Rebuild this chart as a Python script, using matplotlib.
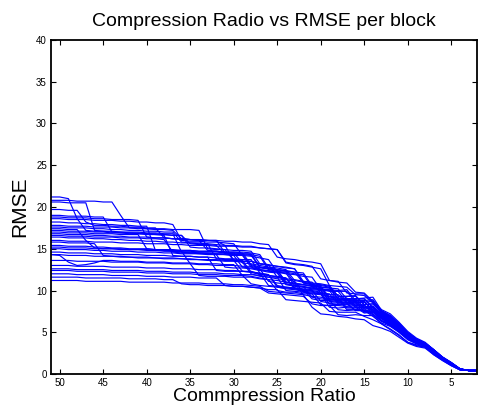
import matplotlib
matplotlib.use("Agg")
import matplotlib.pyplot as plt

# Compression ratios (evaluated from 51 down to 2)
ratios = list(range(51, 1, -1))

# RMSE per block at each compression ratio
block_01 = [21.2,21.2,21.0,18.6,17.2,17.1,17.1,17.0,17.0,16.9,
            16.9,16.8,16.8,16.7,16.6,16.6,15.6,15.5,15.5,15.4,
            14.4,14.3,14.3,14.2,12.8,12.6,12.5,12.3,12.2,10.9,
            10.7,10.5,9.2,9.1,9.1,8.2,8.2,7.5,6.7,6.4,
            5.6,4.7,4.0,3.6,2.8,1.95,1.3,0.6,0.42,0.42]
block_02 = [20.8,20.8,20.8,20.7,20.7,20.7,20.6,20.6,19.0,17.5,
            17.4,17.4,17.3,17.3,17.2,16.2,16.1,16.0,16.0,15.9,
            15.4,15.4,15.3,15.3,15.1,15.0,14.9,13.3,13.1,13.0,
            12.8,12.6,10.6,10.5,10.4,9.5,9.4,8.5,7.5,6.9,
            5.9,4.9,4.1,3.7,2.9,2.0,1.35,0.62,0.42,0.42]
block_03 = [19.7,19.7,19.6,19.6,18.2,17.8,17.8,17.7,17.7,17.6,
            17.6,17.5,17.5,16.3,16.2,16.1,16.1,16.0,14.8,14.7,
            14.6,14.5,13.3,13.2,13.0,12.8,12.7,12.5,11.2,11.0,
            10.8,10.7,10.5,9.3,9.3,9.3,8.3,8.4,7.3,6.7,
            5.8,4.8,4.0,3.6,2.8,1.95,1.3,0.6,0.42,0.42]
block_04 = [19.0,19.0,18.9,18.9,18.9,18.8,18.8,17.0,16.9,16.9,
            16.8,16.8,16.7,16.7,16.6,16.6,15.2,15.1,15.1,15.0,
            14.9,13.6,13.5,13.5,13.2,13.1,11.6,11.4,11.3,11.1,
            11.0,9.7,9.5,9.5,8.5,8.5,8.6,7.7,7.0,6.5,
            5.6,4.6,4.0,3.5,2.7,1.9,1.25,0.58,0.42,0.42]
block_05 = [18.6,18.6,18.5,18.5,18.5,18.4,18.4,18.4,18.3,18.3,
            18.2,18.2,18.1,18.1,17.9,16.0,15.9,15.9,15.8,15.8,
            15.7,15.6,14.2,14.1,13.9,13.7,12.2,12.0,11.9,11.7,
            11.6,10.1,9.9,9.9,9.9,8.6,8.6,8.7,7.3,6.8,
            5.8,4.8,4.1,3.6,2.8,1.95,1.3,0.6,0.42,0.42]
block_06 = [18.2,18.2,18.1,18.1,18.0,18.0,17.9,17.9,17.8,17.8,
            17.7,17.7,14.8,14.7,14.7,14.6,14.6,14.5,14.5,14.4,
            14.3,14.2,12.8,12.7,12.5,12.3,12.2,10.8,10.6,10.5,
            10.3,10.2,10.0,8.6,8.6,8.7,7.8,7.9,7.0,6.4,
            5.5,4.6,3.9,3.5,2.7,1.9,1.25,0.58,0.42,0.42]
block_07 = [17.6,17.6,17.5,17.5,17.5,17.4,17.4,17.3,17.3,17.2,
            17.2,17.1,17.1,17.0,17.0,15.8,15.7,15.7,15.6,13.8,
            13.7,13.7,13.6,12.2,11.9,11.8,11.6,11.5,10.2,10.0,
            9.9,9.7,9.6,8.4,8.4,8.5,7.6,7.7,6.8,6.2,
            5.4,4.5,3.9,3.5,2.7,1.9,1.25,0.58,0.42,0.42]
block_08 = [17.2,17.2,17.1,17.1,17.1,17.0,17.0,16.9,16.9,16.8,
            16.8,16.7,16.7,16.6,14.2,14.1,14.1,14.0,14.0,13.9,
            13.8,13.8,13.7,13.7,12.1,11.9,10.6,10.4,10.3,10.1,
            10.0,9.8,8.4,8.3,8.4,7.6,7.6,7.1,6.4,6.0,
            5.3,4.4,3.8,3.4,2.6,1.85,1.2,0.55,0.42,0.42]
block_09 = [16.8,16.8,16.7,16.7,16.7,16.6,16.6,16.5,16.5,16.4,
            16.4,16.4,16.3,16.3,16.2,16.2,16.1,16.1,16.0,16.0,
            15.9,15.9,15.8,15.8,15.6,15.5,14.0,13.8,13.7,13.5,
            13.4,13.2,11.2,11.0,10.9,9.8,9.7,8.7,7.7,7.2,
            6.2,5.1,4.3,3.8,2.9,2.05,1.4,0.65,0.42,0.42]
block_10 = [16.4,16.4,16.3,16.3,16.3,16.2,16.2,16.1,16.1,16.0,
            16.0,15.9,15.9,15.8,15.8,15.7,15.7,15.6,15.6,15.5,
            15.4,13.6,13.5,13.5,13.2,13.1,12.9,12.8,12.6,10.9,
            10.7,10.6,10.4,9.0,9.0,9.0,9.0,7.9,7.1,6.6,
            5.7,4.7,4.0,3.6,2.8,1.95,1.3,0.6,0.42,0.42]
block_11 = [15.8,15.8,15.7,15.7,15.7,15.6,14.2,14.1,14.1,14.0,
            14.0,14.0,13.9,13.9,13.9,13.8,13.8,13.7,13.7,13.7,
            13.6,13.6,12.3,12.2,12.0,11.8,11.7,11.5,10.3,10.1,
            10.0,8.7,8.5,8.5,8.5,7.6,7.6,7.7,6.7,6.1,
            5.3,4.4,3.8,3.4,2.6,1.85,1.2,0.55,0.42,0.42]
block_12 = [15.4,15.4,15.3,15.3,15.3,15.2,15.2,15.1,15.1,15.0,
            15.0,15.0,14.9,14.9,14.9,14.8,14.8,14.7,14.7,14.7,
            14.6,14.6,14.5,13.1,12.8,12.7,12.5,11.0,10.8,10.7,
            10.5,10.4,9.0,8.9,9.0,8.0,8.0,8.1,7.2,6.7,
            5.7,4.7,4.0,3.6,2.8,1.95,1.3,0.6,0.42,0.42]
block_13 = [15.0,15.0,14.9,14.9,14.9,14.8,14.8,14.7,14.7,14.7,
            14.6,14.6,14.6,14.5,14.5,14.4,14.4,14.4,14.3,14.3,
            12.8,12.7,12.7,12.6,12.4,12.2,12.1,10.7,10.5,10.4,
            10.2,10.1,8.8,8.7,8.8,8.8,7.9,8.0,7.2,6.6,
            5.6,4.6,4.0,3.5,2.7,1.9,1.25,0.58,0.42,0.42]
block_14 = [14.3,14.3,14.2,14.2,14.2,14.1,14.1,14.1,14.0,14.0,
            13.9,13.9,13.9,13.8,13.8,13.8,13.7,13.7,13.6,13.6,
            13.5,13.5,13.4,12.0,11.7,11.6,11.4,11.3,11.1,9.8,
            9.6,9.5,9.3,9.2,7.9,7.9,8.0,8.1,6.9,6.3,
            5.5,4.5,3.9,3.5,2.7,1.9,1.25,0.58,0.42,0.42]
block_15 = [13.0,13.0,13.0,12.9,12.9,12.9,12.9,12.8,12.8,12.8,
            12.8,12.7,12.7,12.7,12.6,12.6,12.6,12.5,12.5,12.5,
            12.4,12.4,12.3,12.3,12.0,11.9,10.4,10.2,10.1,9.9,
            9.8,9.6,8.0,7.9,8.0,8.0,7.3,7.4,6.6,6.0,
            5.2,4.3,3.8,3.4,2.6,1.85,1.15,0.55,0.42,0.42]
block_16 = [12.4,12.4,12.4,12.3,12.3,12.3,12.3,12.2,12.2,12.2,
            12.2,12.1,12.1,12.1,12.0,12.0,12.0,11.9,11.9,11.9,
            11.8,11.8,11.8,10.8,10.6,10.5,10.4,10.3,10.2,10.1,
            9.0,8.8,8.8,7.7,7.6,7.7,7.6,6.9,6.1,5.7,
            5.0,4.1,3.6,3.3,2.5,1.8,1.1,0.52,0.42,0.42]
block_17 = [12.0,12.0,12.0,11.9,11.9,11.9,11.9,11.8,11.8,11.8,
            11.8,11.7,11.7,11.7,11.6,11.6,11.6,11.5,11.5,11.5,
            10.6,10.5,10.5,10.4,10.3,10.1,10.1,8.9,8.8,8.7,
            8.6,8.5,7.5,7.4,7.4,7.4,6.9,6.5,6.0,5.4,
            4.7,3.8,3.5,3.2,2.4,1.7,1.05,0.5,0.42,0.42]
block_18 = [11.6,11.6,11.6,11.6,11.5,11.5,11.5,11.5,11.5,11.4,
            11.4,11.4,11.4,11.3,11.3,10.8,10.7,10.7,10.6,10.6,
            10.6,10.5,10.5,10.4,10.3,9.7,9.6,9.5,9.4,9.3,
            8.4,8.2,8.2,7.1,7.0,7.1,7.0,7.0,6.0,5.3,
            4.6,3.8,3.4,3.2,2.3,1.65,1.0,0.5,0.42,0.42]
block_19 = [11.2,11.2,11.2,11.2,11.1,11.1,11.1,11.1,11.1,11.0,
            11.0,11.0,11.0,11.0,10.9,10.9,10.9,10.9,10.8,10.8,
            10.8,10.7,10.7,10.6,10.5,9.9,9.8,9.7,9.6,9.5,
            8.0,7.2,7.1,6.9,6.8,6.6,6.5,5.8,5.5,5.1,
            4.4,3.7,3.3,3.1,2.3,1.6,1.0,0.5,0.42,0.42]
block_20 = [17.4,17.4,17.3,17.3,16.0,15.1,15.0,15.0,15.0,14.9,
            14.9,14.9,14.8,14.8,14.8,14.7,14.7,14.6,14.6,14.6,
            14.5,14.5,14.4,14.4,12.8,12.6,12.5,12.3,10.9,10.7,
            10.6,10.4,10.3,8.9,8.9,9.0,9.0,8.0,7.0,6.5,
            5.6,4.6,4.0,3.5,2.7,1.9,1.25,0.58,0.42,0.42]
block_21 = [16.6,16.6,16.5,16.5,16.5,16.4,16.4,16.4,16.3,16.3,
            16.3,16.2,16.2,16.1,14.6,14.5,14.5,14.4,14.4,14.3,
            14.3,14.2,14.2,12.8,12.5,12.4,12.2,12.1,10.6,10.4,
            10.3,10.1,10.0,9.9,8.6,8.6,8.7,7.6,6.7,6.2,
            5.4,4.5,3.9,3.5,2.6,1.85,1.2,0.55,0.42,0.42]
block_22 = [15.2,15.2,15.1,15.1,15.1,15.0,15.0,15.0,14.9,14.9,
            14.9,14.8,14.8,14.8,14.7,14.7,13.2,13.1,13.1,13.0,
            13.0,13.0,12.9,12.9,12.6,11.1,10.9,10.8,10.6,10.5,
            9.2,9.0,8.9,8.8,8.9,8.0,8.0,8.1,7.0,6.4,
            5.5,4.5,3.9,3.5,2.7,1.9,1.25,0.58,0.42,0.42]
block_23 = [14.3,14.2,13.4,13.0,13.1,13.3,13.6,13.6,13.5,13.5,
            13.5,13.4,13.4,13.4,13.3,13.3,13.3,13.2,13.2,13.2,
            13.1,13.1,11.8,11.7,11.5,11.3,11.2,11.0,10.9,9.5,
            9.3,9.2,9.0,9.0,7.7,7.7,7.8,7.1,6.3,5.9,
            5.1,4.3,3.7,3.4,2.6,1.85,1.15,0.55,0.42,0.42]
block_24 = [16.0,16.0,15.9,15.9,15.9,15.8,15.8,15.8,15.7,15.7,
            15.7,15.6,15.6,15.6,15.5,15.5,15.4,15.4,15.4,15.3,
            15.3,15.3,15.2,15.2,15.1,15.0,14.9,13.4,13.2,13.1,
            12.9,11.4,11.2,11.1,9.7,9.6,9.6,8.6,7.5,6.9,
            5.9,4.9,4.2,3.7,2.9,2.0,1.35,0.62,0.42,0.42]
block_25 = [17.0,17.0,16.9,16.9,16.9,16.8,16.8,16.8,16.7,16.7,
            16.7,15.0,14.9,14.9,14.8,14.8,14.8,14.7,14.7,14.7,
            14.6,14.6,14.6,14.5,14.3,12.7,12.5,12.4,12.2,12.1,
            10.6,10.4,10.3,10.2,9.0,9.0,9.1,9.2,7.6,7.0,
            6.0,4.9,4.1,3.7,2.9,2.0,1.35,0.62,0.42,0.42]
block_26 = [13.6,13.6,13.6,13.5,13.5,13.5,13.5,13.4,13.4,13.4,
            13.4,13.3,13.3,13.3,13.2,13.2,13.2,11.8,11.7,11.7,
            11.7,11.6,11.6,11.6,11.4,11.3,10.0,9.8,9.8,9.6,
            9.6,8.3,8.2,8.2,8.1,8.2,7.4,7.4,6.4,5.8,
            5.0,4.2,3.7,3.3,2.5,1.8,1.1,0.52,0.42,0.42]
block_27 = [18.8,18.8,18.7,18.7,18.7,18.6,18.6,18.5,18.5,18.5,
            18.4,16.4,16.3,16.3,16.2,16.2,16.1,16.1,16.0,16.0,
            14.5,14.4,14.4,14.3,14.1,12.5,12.3,12.2,12.0,11.9,
            10.4,10.2,10.1,10.0,10.1,8.8,8.8,8.9,7.5,7.0,
            6.1,5.0,4.2,3.7,2.9,2.0,1.35,0.62,0.42,0.42]
block_28 = [20.6,20.6,20.5,20.5,20.5,17.2,17.1,17.1,17.0,17.0,
            17.0,16.9,16.9,16.8,16.8,14.6,14.5,14.5,14.4,14.4,
            14.4,14.3,14.3,13.0,12.7,12.6,12.4,11.0,10.8,10.7,
            10.5,10.4,9.0,8.9,9.0,9.0,8.0,8.1,6.9,6.4,
            5.5,4.5,3.9,3.5,2.7,1.9,1.25,0.58,0.42,0.42]
block_29 = [14.6,14.6,14.5,14.5,14.5,14.4,14.4,14.4,14.3,14.3,
            14.3,14.2,14.2,14.2,14.1,14.1,14.1,14.0,14.0,12.4,
            12.3,12.3,12.3,12.2,12.1,10.6,10.5,10.4,10.3,10.2,
            10.1,10.0,8.7,8.6,8.6,8.6,7.5,7.5,6.6,6.0,
            5.2,4.3,3.7,3.4,2.6,1.8,1.15,0.55,0.42,0.42]
block_30 = [12.6,12.6,12.6,12.5,12.5,12.5,12.5,12.4,12.4,12.4,
            12.4,12.3,12.3,12.3,12.2,12.2,12.2,12.1,12.1,12.1,
            12.0,12.0,11.9,11.9,11.8,11.6,11.6,10.0,9.9,9.8,
            9.7,9.6,8.4,8.3,8.3,8.3,8.3,7.2,6.3,5.8,
            5.1,4.2,3.7,3.3,2.5,1.8,1.1,0.52,0.42,0.42]
block_31 = [17.8,17.8,17.7,17.7,17.7,17.6,17.6,17.6,17.5,17.5,
            17.5,17.4,17.4,17.4,17.3,17.3,17.3,17.2,15.0,14.9,
            14.9,14.8,14.8,14.7,13.2,13.0,12.9,12.7,12.6,11.1,
            10.9,10.8,10.6,9.3,9.3,9.4,8.3,8.4,7.4,6.8,
            5.8,4.8,4.1,3.6,2.8,1.95,1.3,0.6,0.42,0.42]

blocks = [block_01, block_02, block_03, block_04, block_05, block_06,
          block_07, block_08, block_09, block_10, block_11, block_12,
          block_13, block_14, block_15, block_16, block_17, block_18,
          block_19, block_20, block_21, block_22, block_23, block_24,
          block_25, block_26, block_27, block_28, block_29, block_30,
          block_31]

x_ticks = [5, 10, 15, 20, 25, 30, 35, 40, 45, 50]
y_ticks = [0, 5, 10, 15, 20, 25, 30, 35, 40]

plt.rcParams['font.family'] = ['Liberation Sans', 'DejaVu Sans']

fig = plt.figure(figsize=(4.79, 4.08), dpi=100)
ax = fig.add_axes([0.1065, 0.0833, 0.8900, 0.8187])

for rmse in blocks:
    ax.plot(ratios, rmse, color=(0, 0, 1), linewidth=0.85)

ax.set_xlim(51, 2)
ax.set_ylim(0, 40)
ax.set_xticks(x_ticks)
ax.set_yticks(y_ticks)
ax.tick_params(direction='in', length=3.5, width=0.8, labelsize=7,
               top=True, right=True, pad=3, colors='black')
for spine in ax.spines.values():
    spine.set_linewidth(1.3)

ax.set_title('Compression Radio vs RMSE per block', fontsize=14, pad=10)
ax.set_xlabel('Commpression Ratio', fontsize=14, labelpad=0)
ax.set_ylabel('RMSE', fontsize=15, labelpad=5)

fig.savefig('out.png', dpi=100)
